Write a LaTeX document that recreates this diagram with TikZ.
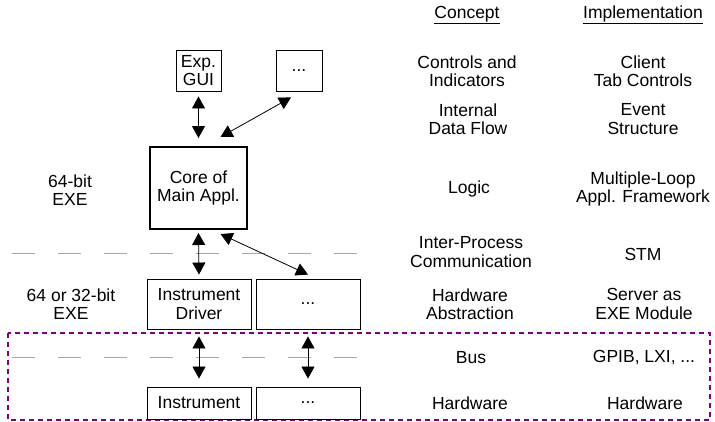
\documentclass[tikz,border=0pt]{standalone}
\usepackage{fontspec}
\setmainfont{Liberation Sans}
\usetikzlibrary{arrows.meta}
\definecolor{busviolet}{RGB}{128,0,128}

\begin{document}
\begin{tikzpicture}[x=1pt,y=1pt,
    every node/.style={font=\fontsize{17.5}{18.5}\selectfont, align=center, inner sep=0pt},
    box/.style={draw, line width=0.9pt, minimum width=#1},
    both/.style={{Triangle[length=12pt,width=13pt]}-{Triangle[length=12pt,width=13pt]}, line width=0.8pt},
    layer/.style={black!35, line width=1pt, dash pattern=on 23pt off 23pt}]
            \useasboundingbox (0,0) rectangle (715,-421);

            % bus region and process borders
            \draw[busviolet, line width=1.3pt, dash pattern=on 5pt off 4pt] (8,-333) rectangle (710,-420);
            \draw[layer] (12,-253) -- (358,-253);
            \draw[layer] (12,-357) -- (358,-357);

            % boxes
            \node[box=45pt, minimum height=41pt] (gui) at (198.5,-70.5) {Exp.\\GUI};
            \node[box=46pt, minimum height=41pt] (dotsA) at (299,-70.5) {...};
            \node[box=97pt, minimum height=82pt, line width=2pt] (core) at (198.5,-188) {Core of\\Main Appl.};
            \node[box=104pt, minimum height=50pt] (driver) at (199,-304) {Instrument\\Driver};
            \node[box=104pt, minimum height=50pt] (dotsB) at (308,-304) {...};
            \node[box=104pt, minimum height=32pt] (instr) at (199,-403) {Instrument};
            \node[box=104pt, minimum height=32pt] (dotsC) at (308,-403) {...};

            % connections
            \draw[both] ([yshift=-5pt]gui.south) -- ([yshift=8pt]core.north);
            \draw[both] ([xshift=-8pt,yshift=-6pt]dotsA.south) -- ([xshift=22pt,yshift=9pt]core.north);
            \draw[both] ([yshift=-3pt]core.south) -- ([yshift=4pt]driver.north);
            \draw[both] ([xshift=22pt,yshift=-4pt]core.south) -- ([yshift=4pt]dotsB.north);
            \draw[both] ([yshift=-7pt]driver.south) -- ([yshift=8pt]instr.north);
            \draw[both] ([yshift=-7pt]dotsB.south) -- ([yshift=8pt]dotsC.north);

            % left labels
            \node (exeA) at (70,-190) {64-bit\\EXE};
            \node (exeB) at (71,-304) {64 or 32-bit\\EXE};

            % concept column
            \node (concept) at (467,-15) {\underline{Concept}};
            \node (cA) at (467,-71) {Controls and\\Indicators};
            \node (cB) at (468,-119) {Internal\\Data Flow};
            \node (cC) at (469,-189) {Logic};
            \node (cD) at (471,-252) {Inter-Process\\Communication};
            \node (cE) at (470,-304) {Hardware\\Abstraction};
            \node (cF) at (471,-358) {Bus};
            \node (cG) at (470,-403) {Hardware};

            % implementation column
            \node (impl) at (643,-15) {\underline{Implementation}};
            \node (iA) at (643,-71) {Client\\Tab Controls};
            \node (iB) at (643,-119) {Event\\Structure};
            \node (iC) at (643,-189) {Multiple-Loop\\Appl. Framework};
            \node (iD) at (643,-254) {STM};
            \node (iE) at (644,-304) {Server as\\EXE Module};
            \node (iF) at (644,-358) {GPIB, LXI, ...};
            \node (iG) at (645,-403) {Hardware};

        \end{tikzpicture}
\end{document}
